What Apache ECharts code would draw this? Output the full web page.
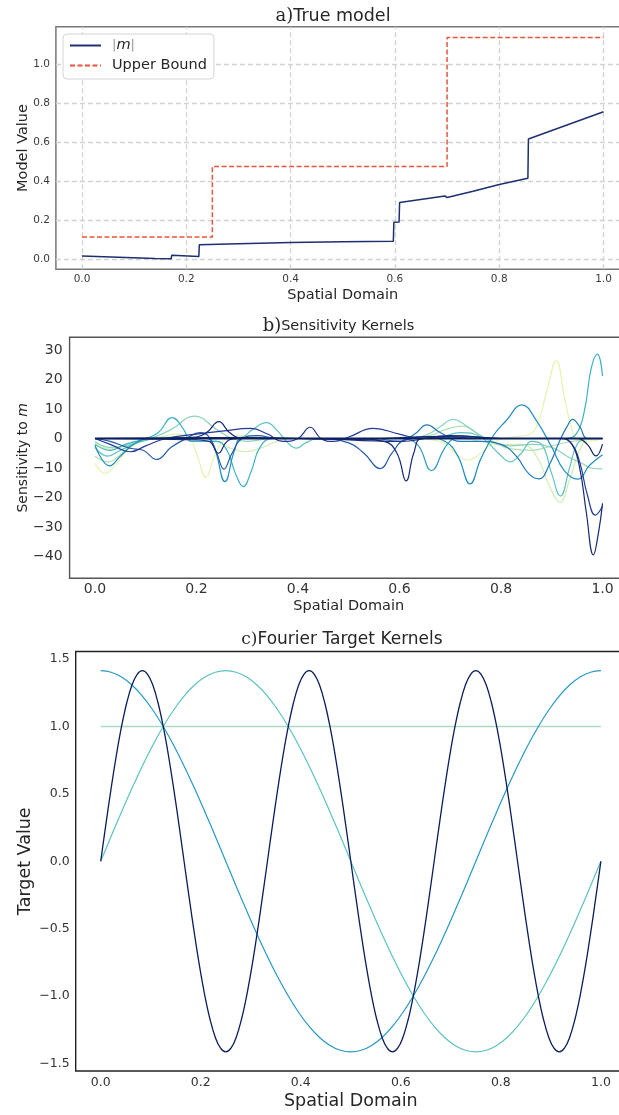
<!DOCTYPE html>
<html>
<head>
<meta charset="utf-8">
<script src="https://cdn.jsdelivr.net/npm/echarts@6/dist/echarts.min.js"></script>
<style>
html,body{margin:0;padding:0;background:#fff;}
#chart{width:619px;height:1115px;}
</style>
</head>
<body>
<div id="chart"></div>
<script>
// ---------- Panel a data ----------
const modelX = [0, 0.14, 0.171, 0.172, 0.224, 0.225, 0.3, 0.4, 0.5, 0.597, 0.598, 0.608, 0.609, 0.696, 0.700, 0.75, 0.8, 0.855, 0.856, 1.0];
const modelY = [0.015, 0.003, 0.001, 0.019, 0.012, 0.073, 0.078, 0.084, 0.088, 0.091, 0.188, 0.190, 0.289, 0.323, 0.315, 0.347, 0.382, 0.414, 0.615, 0.755];
const upperX = [0, 0.25, 0.25, 0.70, 0.70, 1.0];
const upperY = [0.113, 0.113, 0.474, 0.474, 1.135, 1.135];

// ---------- Tick labels ----------
const xTicks = [0, 0.2, 0.4, 0.6, 0.8, 1.0];
const yTicksA = [0, 0.2, 0.4, 0.6, 0.8, 1.0];
const yTicksB = [-40, -30, -20, -10, 0, 10, 20, 30];
const yTicksC = [-1.5, -1, -0.5, 0, 0.5, 1, 1.5];

// ---------- Panel b data: sensitivity kernels ([x, value] pairs) ----------
const kPaleA = [[0,-8.4],[0.02,-11.8],[0.045,-8],[0.07,-3],[0.1,-0.5],[0.13,0.5],[0.16,1.5],[0.185,0.5],[0.2,-5],[0.219,-13.2],[0.235,-6],[0.255,-0.5],[0.28,1],[0.31,0.8],[0.35,0],[0.5,0],[0.62,0],[0.68,-1],[0.71,-5],[0.736,-7.3],[0.76,-5],[0.79,-1],[0.82,0.5],[0.85,1],[0.87,4],[0.89,16],[0.909,26.4],[0.925,14],[0.94,3],[0.955,-1],[0.97,-1],[1,0]];
const kPaleB = [[0,-1.5],[0.03,-3.5],[0.07,-2],[0.12,0],[0.2,0.5],[0.24,-1],[0.27,-3.5],[0.298,-4.5],[0.33,-3],[0.37,-0.5],[0.42,0],[0.6,0],[0.7,0.5],[0.76,-1],[0.8,-2],[0.84,-2],[0.87,-6],[0.895,-16],[0.916,-21.6],[0.935,-14],[0.955,-4],[0.975,0],[1,0]];
const kGreen = [[0,-6],[0.027,-7.9],[0.05,-5.5],[0.07,-2.5],[0.1,-0.5],[0.15,0.5],[0.2,0],[0.6,0],[0.66,1],[0.69,3],[0.725,4.2],[0.75,2],[0.78,-1],[0.82,-3.5],[0.86,-4],[0.9,-2.5],[0.94,-1],[1,0]];
const kMint = [[0,-1],[0.03,-3],[0.07,-2],[0.11,0],[0.15,3],[0.196,7.6],[0.24,3],[0.27,0],[0.3,-1],[0.35,0],[0.6,0],[0.65,1],[0.68,4],[0.706,6.5],[0.73,4.5],[0.76,1],[0.79,-1.5],[0.82,-2.5],[0.86,-2],[0.9,-3],[0.93,-6],[0.96,-8.5],[0.98,-10.1],[1,-10.3]];
const kTeal = [[0,-3],[0.025,-6],[0.05,-4],[0.09,-1],[0.13,0],[0.26,0],[0.29,0.5],[0.31,3],[0.338,5.4],[0.36,2.5],[0.38,-1.5],[0.397,-3.3],[0.415,-1.5],[0.44,0],[0.6,0],[0.68,0.5],[0.72,2],[0.76,0.5],[0.795,-5],[0.818,-7.9],[0.84,-5],[0.86,-1],[0.88,-2],[0.9,-12],[0.917,-19.5],[0.935,-10],[0.95,-2],[0.97,0],[1,0]];
const kCyan = [[0,-2],[0.03,-4],[0.06,-2],[0.1,0],[0.125,2],[0.152,7.1],[0.175,3],[0.19,-1],[0.24,-1],[0.26,-4],[0.277,-12],[0.292,-16.3],[0.308,-11],[0.325,-3],[0.35,0],[0.6,0],[0.7,0.5],[0.8,0],[0.93,0],[0.95,2],[0.965,10],[0.978,24],[0.99,28.6],[1,21.2]];
const kBlueA = [[0,-2.3],[0.029,-9.3],[0.05,-6],[0.08,-1.5],[0.11,0],[0.22,0],[0.235,-3],[0.256,-14.6],[0.275,-4],[0.29,0],[0.6,0],[0.65,0.5],[0.69,-1],[0.715,-6],[0.739,-15.4],[0.76,-7],[0.785,1],[0.81,6],[0.841,11.4],[0.87,6],[0.9,-3],[0.925,-11],[0.951,-13.8],[0.975,-9],[1,-5.5]];
const kBlueB = [[0,0],[0.55,0],[0.6,-1],[0.63,1.5],[0.654,4.6],[0.68,2],[0.72,-1],[0.76,-1],[0.8,-2],[0.83,-6],[0.855,-12],[0.875,-13.7],[0.895,-9],[0.915,-1],[0.93,4],[0.941,6.5],[0.955,4],[0.97,0],[1,0]];
const kBlueC = [[0,0],[0.6,0],[0.635,-2],[0.663,-10.9],[0.69,-3],[0.71,0],[0.75,0.5],[0.8,0],[1,0]];
const kRoyal = [[0,0],[0.03,-1],[0.069,-3.3],[0.095,-4],[0.1215,-7.1],[0.15,-3],[0.18,0],[0.207,2],[0.225,0.5],[0.24,-5],[0.254,-10.4],[0.27,-5],[0.29,0],[0.32,1],[0.36,0],[0.44,0],[0.5,-1.5],[0.53,-5],[0.562,-10.2],[0.585,-5],[0.61,-0.5],[0.64,0],[1,0]];
const kDark = [[0,0],[0.03,-2],[0.07,-4.5],[0.1,-2.5],[0.14,0],[0.2,1.5],[0.25,2.5],[0.307,3.4],[0.34,1.5],[0.37,-1],[0.4,0],[0.424,3.8],[0.445,0],[0.47,-1],[0.5,0.5],[0.548,3.4],[0.6,1.5],[0.64,0],[0.7,0.5],[0.75,0],[0.92,0],[0.94,-2],[0.955,-8],[0.97,-19],[0.986,-26],[1,-23]];
const kNavyA = [[0,0],[0.1,0],[0.2,0.5],[0.22,2],[0.244,5.7],[0.265,2],[0.29,0],[0.5,0],[0.57,-1],[0.595,-5],[0.613,-14.4],[0.628,-5],[0.645,0],[0.92,0],[0.94,-2],[0.955,-10],[0.968,-25],[0.982,-39.5],[0.992,-32],[1,-22]];
const kNavyB = [[0,0],[0.95,0],[0.97,-2],[0.987,-5.9],[1,-1.9]];
const kNavyC = [[0,0],[0.2,-0.5],[0.225,-1],[0.243,-5],[0.26,-1],[0.28,0],[0.4,0],[0.6,-1],[0.7,1],[0.8,0],[1,0]];
const kNavyD = [[0,0],[0.3,0.3],[0.5,-0.3],[0.65,0.6],[0.72,0.8],[0.8,0],[1,0]];
const kNavyE = [[0,0],[1,0]];

// ---------- Panel c data: Fourier target kernels ----------
const sin3Vals = [0,0.276,0.541,0.786,1.0,1.176,1.307,1.387,1.414,1.387,1.307,1.176,1.0,0.786,0.541,0.276,
                  0,-0.276,-0.541,-0.786,-1.0,-1.176,-1.307,-1.387,-1.414,-1.387,-1.307,-1.176,-1.0,-0.786,-0.541,-0.276,
                  0,0.276,0.541,0.786,1.0,1.176,1.307,1.387,1.414,1.387,1.307,1.176,1.0,0.786,0.541,0.276,
                  0,-0.276,-0.541,-0.786,-1.0,-1.176,-1.307,-1.387,-1.414,-1.387,-1.307,-1.176,-1.0,-0.786,-0.541,-0.276,
                  0,0.276,0.541,0.786,1.0,1.176,1.307,1.387,1.414,1.387,1.307,1.176,1.0,0.786,0.541,0.276,
                  0,-0.276,-0.541,-0.786,-1.0,-1.176,-1.307,-1.387,-1.414,-1.387,-1.307,-1.176,-1.0,-0.786,-0.541,-0.276,0];
const sin1Vals = [0,0.185,0.366,0.541,0.707,0.861,1.0,1.122,1.225,1.307,1.366,1.402,1.414,1.402,1.366,1.307,1.225,1.122,1.0,0.861,0.707,0.541,0.366,0.185,
                  0,-0.185,-0.366,-0.541,-0.707,-0.861,-1.0,-1.122,-1.225,-1.307,-1.366,-1.402,-1.414,-1.402,-1.366,-1.307,-1.225,-1.122,-1.0,-0.861,-0.707,-0.541,-0.366,-0.185,0];
const cos1Vals = [1.414,1.402,1.366,1.307,1.225,1.122,1.0,0.861,0.707,0.541,0.366,0.185,0,-0.185,-0.366,-0.541,-0.707,-0.861,-1.0,-1.122,-1.225,-1.307,-1.366,-1.402,
                  -1.414,-1.402,-1.366,-1.307,-1.225,-1.122,-1.0,-0.861,-0.707,-0.541,-0.366,-0.185,0,0.185,0.366,0.541,0.707,0.861,1.0,1.122,1.225,1.307,1.366,1.402,1.414];
const constX = [0, 1];
const constVals = [1, 1];

// ---------- build ----------
const FONT = "'DejaVu Sans', sans-serif";
const SERIF = "'DejaVu Serif', serif";
const TXT = '#262626';

function gridX(n, i) { return i / (n - 1); }
function pairs(vals) { return vals.map((v, i) => [gridX(vals.length, i), v]); }
function fmt1(v) { const s = Math.abs(v).toFixed(1); return v < 0 ? '\u2212' + s : s; }
function fmt0(v) { return v < 0 ? '\u2212' + Math.abs(v) : String(v); }

const kernelList = [
  [kPaleA, '#e4f4b0', 1.2], [kPaleB, '#d2edb3', 1.2], [kGreen, '#b4e0b7', 1.2], [kMint, '#8fd3ba', 1.2],
  [kTeal, '#5fc3c0', 1.2], [kCyan, '#3eb2c5', 1.2], [kBlueC, '#2c9cc6', 1.2], [kBlueA, '#1f8fc0', 1.2],
  [kBlueB, '#2079b5', 1.2], [kRoyal, '#2459a5', 1.2], [kDark, '#253996', 1.2], [kNavyC, '#1f2d82', 1.2],
  [kNavyD, '#1a2b7a', 1.2], [kNavyA, '#142a75', 1.2], [kNavyB, '#0e2260', 1.2], [kNavyE, '#0b1f5c', 2.2]
];

function xAx(gi, fs, nfs, margin, gap, color) {
  return {
    type: 'value', gridIndex: gi, min: -0.05, max: 1.05,
    axisLine: {show: false}, axisTick: {show: false}, splitLine: {show: false},
    axisLabel: {customValues: xTicks, formatter: fmt1, fontSize: fs, fontFamily: FONT, color: color, margin: margin},
    name: 'Spatial Domain', nameLocation: 'middle', nameGap: gap, nameMoveOverlap: false,
    nameTextStyle: {fontSize: nfs, fontFamily: FONT, color: TXT}
  };
}
function yAx(gi, min, max, ticks, f, fs, name, nfs, margin, gap, color) {
  return {
    type: 'value', gridIndex: gi, min: min, max: max,
    axisLine: {show: false}, axisTick: {show: false}, splitLine: {show: false},
    axisLabel: {customValues: ticks, formatter: f, fontSize: fs, fontFamily: FONT, color: color, margin: margin},
    name: name, nameLocation: 'middle', nameGap: gap, nameMoveOverlap: false,
    nameTextStyle: {fontSize: nfs, fontFamily: FONT, color: TXT, rich: {i: {fontStyle: 'italic', fontSize: nfs, fontFamily: FONT, color: TXT}}}
  };
}

const series = [];
// panel a
series.push({
  name: 'Upper Bound', type: 'line', xAxisIndex: 0, yAxisIndex: 0, z: 3,
  data: upperX.map((x, i) => [x, upperY[i]]), showSymbol: false, symbol: 'none',
  lineStyle: {color: '#e8553d', width: 1.5, type: [5, 2.5]}, itemStyle: {color: '#e8553d'},
  markLine: {
    silent: true, z: 1, symbol: ['none', 'none'], label: {show: false}, animation: false,
    lineStyle: {type: [5, 3], color: '#d2d2d2', width: 1.3},
    emphasis: {disabled: true},
    data: xTicks.map(v => ({xAxis: v})).concat(yTicksA.map(v => ({yAxis: v})))
  }
});
series.push({
  name: '|m|', type: 'line', xAxisIndex: 0, yAxisIndex: 0, z: 4,
  data: modelX.map((x, i) => [x, modelY[i]]), showSymbol: false, symbol: 'none',
  lineStyle: {color: '#1d2f6f', width: 1.5}, itemStyle: {color: '#1d2f6f'}
});
// panel b
kernelList.forEach(([d, c, w], i) => {
  series.push({
    type: 'line', xAxisIndex: 1, yAxisIndex: 1, z: 2 + i * 0.01, data: d, smooth: 0.45,
    showSymbol: false, symbol: 'none', lineStyle: {color: c, width: w}
  });
});
// panel c
series.push({type: 'line', xAxisIndex: 2, yAxisIndex: 2, data: constX.map((x, i) => [x, constVals[i]]), showSymbol: false, symbol: 'none', lineStyle: {color: '#a9dcc0', width: 1.5}});
series.push({type: 'line', xAxisIndex: 2, yAxisIndex: 2, data: pairs(sin1Vals), smooth: 0.4, showSymbol: false, symbol: 'none', lineStyle: {color: '#5cc2c0', width: 1.2}});
series.push({type: 'line', xAxisIndex: 2, yAxisIndex: 2, data: pairs(cos1Vals), smooth: 0.4, showSymbol: false, symbol: 'none', lineStyle: {color: '#2898c6', width: 1.2}});
series.push({type: 'line', xAxisIndex: 2, yAxisIndex: 2, data: pairs(sin3Vals), smooth: 0.4, showSymbol: false, symbol: 'none', lineStyle: {color: '#0b1d5a', width: 1.3}});

const gridBase = {show: true, backgroundColor: 'transparent', outerBoundsMode: 'none', containLabel: false};
const option = {
  animation: false,
  backgroundColor: '#fff',
  grid: [
    Object.assign({left: 55.9, top: 26.7, width: 573.7, height: 242.6, borderColor: '#777', borderWidth: 1.5}, gridBase),
    Object.assign({left: 69.6, top: 337.3, width: 558.3, height: 241, borderColor: '#555', borderWidth: 1.4}, gridBase),
    Object.assign({left: 75.7, top: 651.5, width: 550.2, height: 419.5, borderColor: '#222', borderWidth: 1.4}, gridBase)
  ],
  xAxis: [
    xAx(0, 10.5, 14.5, 4, 18.5, '#3a3a3a'),
    xAx(1, 14, 14.5, 4, 20, '#333'),
    xAx(2, 12.5, 17.5, 5, 21.5, '#333')
  ],
  yAxis: [
    yAx(0, -0.053, 1.191, yTicksA, fmt1, 10.5, 'Model Value', 14.5, 6, 25.5, '#3a3a3a'),
    yAx(1, -47.4, 34.3, yTicksB, fmt0, 14, 'Sensitivity to {i|m}', 14, 7, 39, '#333'),
    yAx(2, -1.556, 1.556, yTicksC, fmt1, 12.5, 'Target Value', 17.5, 6, 41.5, '#333')
  ],
  legend: {
    left: 63, top: 34, orient: 'vertical', itemWidth: 31, itemHeight: 12, itemGap: 5,
    padding: [4, 7, 6, 6], borderColor: '#d4d4d4', borderWidth: 1, borderRadius: 4,
    backgroundColor: '#fff', selectedMode: false,
    itemStyle: {opacity: 0},
    data: ['|m|', 'Upper Bound'],
    formatter: n => n === '|m|' ? '{b||}{i|m}{b||}' : n,
    textStyle: {
      fontSize: 14.5, fontFamily: FONT, color: TXT, padding: [0, 0, 0, 6],
      rich: {
        i: {fontStyle: 'italic', fontSize: 14.5, fontFamily: FONT, color: TXT},
        b: {fontSize: 13, fontFamily: FONT, color: '#999'}
      }
    }
  },
  graphic: [
    {type: 'text', x: 333, y: 16, style: {text: '{s|a)}{t|True model}', align: 'center', verticalAlign: 'middle',
      rich: {s: {fontFamily: SERIF, fontSize: 18, fill: TXT}, t: {fontFamily: FONT, fontSize: 17.5, fill: TXT}}}},
    {type: 'text', x: 338.5, y: 326, style: {text: '{s|b)}{t|Sensitivity Kernels}', align: 'center', verticalAlign: 'middle',
      rich: {s: {fontFamily: SERIF, fontSize: 18, fill: TXT}, t: {fontFamily: FONT, fontSize: 14.5, fill: TXT}}}},
    {type: 'text', x: 342, y: 640, style: {text: '{s|c)}{t|Fourier Target Kernels}', align: 'center', verticalAlign: 'middle',
      rich: {s: {fontFamily: SERIF, fontSize: 17, fill: TXT}, t: {fontFamily: FONT, fontSize: 17, fill: TXT}}}}
  ],
  series: series
};

const chart = echarts.init(document.getElementById('chart'), null, {renderer: 'canvas'});
chart.setOption(option);
</script>
</body>
</html>
